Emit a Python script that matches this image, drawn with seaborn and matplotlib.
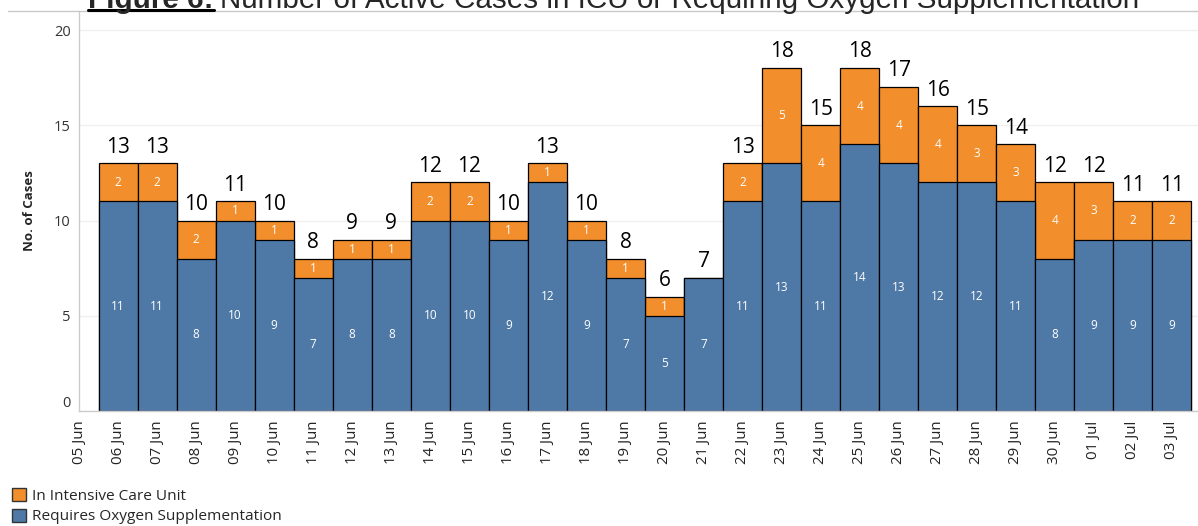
import pandas as pd
import matplotlib
matplotlib.use('Agg')
import matplotlib.pyplot as plt
import seaborn as sns
from matplotlib.patches import Patch
from matplotlib.lines import Line2D


# values
dates = ['06 Jun', '07 Jun', '08 Jun', '09 Jun', '10 Jun', '11 Jun', '12 Jun',
         '13 Jun', '14 Jun', '15 Jun', '16 Jun', '17 Jun', '18 Jun', '19 Jun',
         '20 Jun', '21 Jun', '22 Jun', '23 Jun', '24 Jun', '25 Jun', '26 Jun',
         '27 Jun', '28 Jun', '29 Jun', '30 Jun', '01 Jul', '02 Jul', '03 Jul']
oxygen = [11, 11, 8, 10, 9, 7, 8, 8, 10, 10, 9, 12, 9, 7,
          5, 7, 11, 13, 11, 14, 13, 12, 12, 11, 8, 9, 9, 9]
icu = [2, 2, 2, 1, 1, 1, 1, 1, 2, 2, 1, 1, 1, 1,
       1, 0, 2, 5, 4, 4, 4, 4, 3, 3, 4, 3, 2, 2]
axis_dates = ['05 Jun'] + dates + ['04 Jul']

title_bold = 'Figure 6:'
title_rest = 'Number of Active Cases in ICU or Requiring Oxygen Supplementation'

blue = '#4e79a7'
orange = '#f28e2b'

df = pd.DataFrame({'date': dates, 'oxygen': oxygen, 'icu': icu})
df['total'] = df['oxygen'] + df['icu']

sns.set_style('white')
plt.rcParams['font.family'] = ['Open Sans', 'DejaVu Sans']

W, H = 1198, 526
fig = plt.figure(figsize=(W / 100, H / 100), dpi=100)
ax = fig.add_axes([79 / W, 1 - 411 / H, (1211 - 79) / W, 400 / H])

sns.barplot(data=df, x='date', y='total', order=axis_dates, color=orange,
            saturation=1, width=1, edgecolor='black', linewidth=0.9,
            errorbar=None, ax=ax)
sns.barplot(data=df, x='date', y='oxygen', order=axis_dates, color=blue,
            saturation=1, width=1, edgecolor='black', linewidth=0.9,
            errorbar=None, ax=ax)

for _, row in df.iterrows():
    xi = axis_dates.index(row['date'])
    ax.text(xi, row['total'] + 0.3, str(row['total']), ha='center', va='bottom',
            fontsize=15, color='black')
    ax.text(xi, row['oxygen'] / 2, str(row['oxygen']), ha='center', va='center',
            fontsize=8.5, color='white')
    if row['icu'] > 0:
        ax.text(xi, row['oxygen'] + row['icu'] / 2, str(row['icu']), ha='center',
                va='center', fontsize=8.5, color='white')

ax.set_xlim(0, 29)
ax.set_ylim(0, 21)
ax.set_yticks([0, 5, 10, 15, 20])
ax.yaxis.grid(True, color='#f0f0f0', linewidth=1)
ax.set_axisbelow(True)
ax.set_xlabel('')
ax.set_ylabel('No. of Cases', fontsize=9.5, fontweight='bold', labelpad=13)

for side in ['top', 'right']:
    ax.spines[side].set_visible(False)
for side in ['left', 'bottom']:
    ax.spines[side].set_color('#cccccc')
    ax.spines[side].set_linewidth(1)

ax.tick_params(axis='x', rotation=90, length=4, width=1, color='#888888',
               labelsize=10.8, pad=3, labelcolor='#222222')
ax.tick_params(axis='y', length=4, width=1, color='#888888', labelsize=10.5,
               pad=2, labelcolor='#333333')
ax.get_yticklabels()[0].set_va('bottom')

handles = [Patch(facecolor=orange, edgecolor='#333333', linewidth=1),
           Patch(facecolor=blue, edgecolor='#333333', linewidth=1)]
fig.legend(handles, ['In Intensive Care Unit', 'Requires Oxygen Supplementation'],
           loc='lower left', bbox_to_anchor=(10 / W, 0), frameon=False,
           handlelength=0.95, handleheight=0.95, handletextpad=0.35,
           labelspacing=0.3, fontsize=11.1, borderpad=0.1, borderaxespad=0)

# title, cut off at the top like the original
fig.add_artist(Line2D([8 / W, 1], [1 - 11 / H] * 2, color='#c8c8c8', linewidth=1))
t1 = fig.text(88 / W, 1 - 8 / H, title_bold, fontsize=21.3, fontweight='bold',
              family='Liberation Sans', va='baseline')
fig.canvas.draw()
bb = t1.get_window_extent()
fig.add_artist(Line2D([bb.x0 / W, bb.x1 / W], [1 - 10 / H] * 2, color='black',
                      linewidth=2.2))
fig.text(bb.x1 / W + 6 / W, 1 - 8 / H, title_rest, fontsize=21.3,
         family='Liberation Sans', va='baseline')

fig.savefig('out.png', dpi=100)
